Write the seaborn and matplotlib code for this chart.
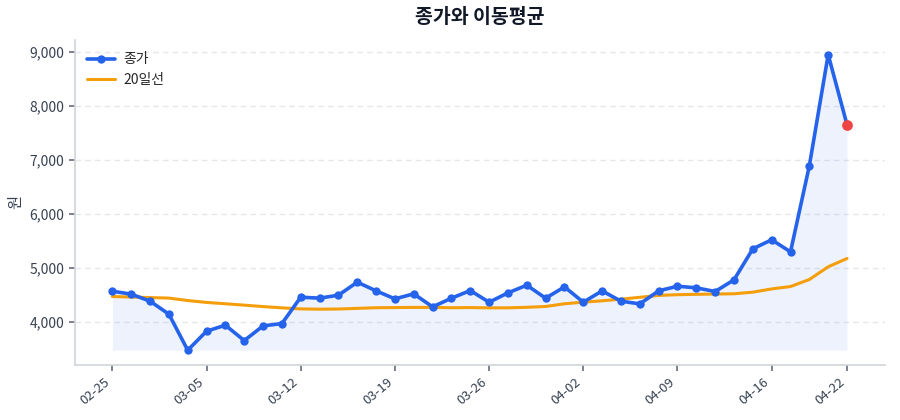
import matplotlib
matplotlib.use("Agg")
import matplotlib.pyplot as plt
import seaborn as sns
import pandas as pd
import numpy as np
from matplotlib.ticker import FuncFormatter

dates = ["02-25", "02-26", "02-27", "02-28", "03-04", "03-05", "03-06", "03-07",
         "03-10", "03-11", "03-12", "03-13", "03-14", "03-17", "03-18", "03-19",
         "03-20", "03-21", "03-24", "03-25", "03-26", "03-27", "03-28", "03-31",
         "04-01", "04-02", "04-03", "04-04", "04-07", "04-08", "04-09", "04-10",
         "04-11", "04-14", "04-15", "04-16", "04-17", "04-18", "04-21", "04-22"]

close = [4568, 4513, 4383, 4143, 3476, 3828, 3939, 3654, 3926, 3969,
         4457, 4439, 4494, 4735, 4574, 4426, 4519, 4278, 4438, 4580,
         4364, 4537, 4679, 4438, 4648, 4364, 4574, 4383, 4333, 4574,
         4660, 4630, 4562, 4778, 5352, 5519, 5296, 6889, 8944, 7648]

ma20 = [4469, 4460, 4450, 4440, 4395, 4360, 4335, 4310, 4283, 4260,
        4240, 4235, 4238, 4250, 4262, 4265, 4268, 4268, 4262, 4265,
        4260, 4260, 4270, 4285, 4335, 4365, 4390, 4420, 4455, 4490,
        4503, 4510, 4515, 4520, 4550, 4610, 4654, 4784, 5019, 5173]

tick_idx = [0, 5, 10, 15, 20, 25, 30, 35, 39]

sns.set_theme(style="white")
plt.rcParams['font.family'] = ['Noto Sans CJK KR', 'DejaVu Sans']

df = pd.DataFrame({"i": np.arange(len(dates)), "date": dates, "close": close, "ma": ma20})

fig = plt.figure(figsize=(9, 4.2), dpi=100)
ax = fig.add_axes([0.083, 0.131, 0.9, 0.774])

blue = "#2563eb"
orange = "#f59e0b"

ax.fill_between(df["i"], df["close"], min(close), color=blue, alpha=0.08, linewidth=0, zorder=1)
sns.lineplot(data=df, x="i", y="close", ax=ax, color=blue, linewidth=2.6, marker="o",
             markersize=6, markeredgewidth=0, label="종가", zorder=3)
sns.lineplot(data=df, x="i", y="ma", ax=ax, color=orange, linewidth=2.2, label="20일선", zorder=2)
ax.scatter([df["i"].iloc[-1]], [close[-1]], s=60, color="#ef4444", zorder=4, linewidths=0)

ax.set_xlim(-2, len(dates) + 1)
ax.set_xticks(tick_idx)
ax.set_xticklabels([dates[i] for i in tick_idx], rotation=40, ha="right", fontsize=9.5, color="#374151")
ax.yaxis.set_major_formatter(FuncFormatter(lambda v, p: f"{int(v):,}"))
ax.set_yticks([4000, 5000, 6000, 7000, 8000, 9000])
ax.tick_params(axis="y", labelsize=10, colors="#374151", length=4, color="#6b7280", left=True)
ax.tick_params(axis="x", length=4, color="#6b7280", bottom=True)
for lbl in ax.get_yticklabels():
    lbl.set_color("#374151")

ax.grid(axis="y", linestyle=(0, (4, 3)), color="#e5e7eb", linewidth=1)
ax.set_axisbelow(True)
for s in ["top", "right"]:
    ax.spines[s].set_visible(False)
for s in ["left", "bottom"]:
    ax.spines[s].set_color("#d1d5db")
    ax.spines[s].set_linewidth(1.2)

ax.set_xlabel("")
ax.set_ylabel("원", fontsize=11, color="#374151")
ax.set_title("종가와 이동평균", fontsize=14, fontweight="bold", color="#111827", pad=12)
ax.legend(loc="upper left", frameon=False, fontsize=10, handlelength=2.0, handletextpad=0.6)

fig.savefig("out.png", dpi=100)
